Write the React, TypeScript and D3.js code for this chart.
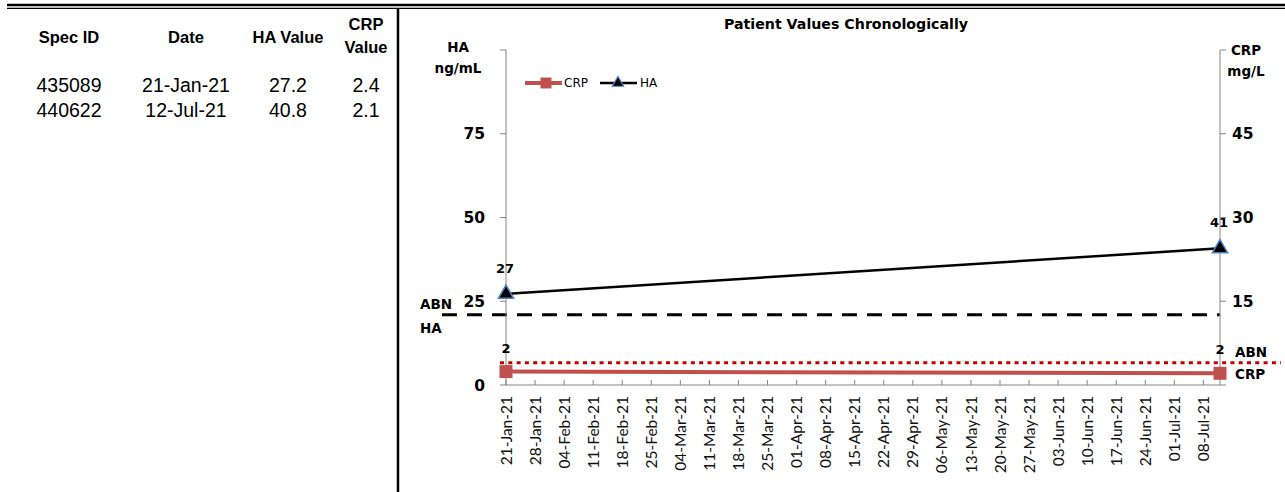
import React from 'react';
import * as d3 from 'd3';

// table / chart data
const specIds = ['435089', '440622'];
const sampleDates = ['21-Jan-21', '12-Jul-21'];
const haValues = [27.2, 40.8];
const crpValues = [2.4, 2.1];

// reference ("abnormal") thresholds
const abnHa = 21;
const abnCrp = 4;

const haTicks = [0, 25, 50, 75, 100];
const haTickLabels = ['0', '25', '50', '75', ''];
const crpTicks = [0, 15, 30, 45, 60];
const crpTickLabels = ['', '15', '30', '45', ''];

const tableHeaders = ['Spec ID', 'Date', 'HA Value', 'CRP Value'];

const W = 1285;
const H = 492;
const axisColor = '#868686';
const crpColor = '#c0504d';
const abnCrpColor = '#c00000';
const triStroke = '#4f81bd';
const chartFont = '"DejaVu Sans", sans-serif';
const tableFont = '"Liberation Sans", Arial, sans-serif';

const parseDate = d3.utcParse('%d-%b-%y');
const fmtDate = d3.utcFormat('%d-%b-%y');

function App() {
  const dates = sampleDates.map(d => parseDate(d) as Date);

  const x = d3.scaleUtc()
    .domain([dates[0], dates[dates.length - 1]])
    .range([506, 1220]);
  const yHa = d3.scaleLinear().domain([0, 100]).range([385, 50]);
  const yCrp = d3.scaleLinear().domain([0, 60]).range([385, 50]);

  const weekTicks = d3.utcDay.range(dates[0], dates[dates.length - 1], 7);

  const [x0, x1] = x.range();
  const yBottom = yHa(0);
  const yTop = yHa(100);

  const haLine = d3.line<number>()
    .x((_, i) => x(dates[i]))
    .y(d => yHa(d));
  const crpLine = d3.line<number>()
    .x((_, i) => x(dates[i]))
    .y(d => yCrp(d));

  const tri = d3.symbol(d3.symbolTriangle, 100)();
  const triSmall = d3.symbol(d3.symbolTriangle, 55)();
  const sq = d3.symbol(d3.symbolSquare, 169)();
  const sqSmall = d3.symbol(d3.symbolSquare, 120)();

  // table columns
  const colX = [69, 186, 288, 366];
  const rowY = [92, 117];
  const rows = specIds.map((id, i) => [id, sampleDates[i], haValues[i].toFixed(1), crpValues[i].toFixed(1)]);

  return (
    <svg width={W} height={H} style={{position: 'absolute', left: 0, top: 0, background: '#fff'}}>
      {/* page rules */}
      <line x1={7} x2={W} y1={5} y2={5} stroke="#000" strokeWidth={2.6}/>
      <line x1={7} x2={W} y1={8.3} y2={8.3} stroke="#000" strokeWidth={1.3}/>
      <line x1={398} x2={398} y1={9} y2={H} stroke="#000" strokeWidth={2.5}/>

      {/* table */}
      <g fontFamily={tableFont} fill="#000">
        {tableHeaders.map((h, i) => {
          const parts = i === 3 ? h.split(' ') : [h];
          return (
            <text key={h} x={colX[i]} y={parts.length > 1 ? 30 : 43} textAnchor="middle" fontWeight="bold" fontSize={16.5}>
              {parts.map((p, j) => <tspan key={j} x={colX[i]} dy={j === 0 ? 0 : 23}>{p}</tspan>)}
            </text>
          );
        })}
        {rows.map((r, i) => r.map((v, j) => (
          <text key={i + '-' + j} x={colX[j]} y={rowY[i]} textAnchor="middle" fontSize={19.5}>{v}</text>
        )))}
      </g>

      {/* chart */}
      <g fontFamily={chartFont} fill="#000">
        <text x={846} y={29} textAnchor="middle" fontWeight="bold" fontSize={14.2}>Patient Values Chronologically</text>

        {/* threshold lines */}
        <line x1={x0 - 64} x2={x1} y1={yHa(abnHa)} y2={yHa(abnHa)} stroke="#000" strokeWidth={3} strokeDasharray="15 10"/>
        <line x1={x0 - 6} x2={W - 4} y1={yCrp(abnCrp)} y2={yCrp(abnCrp)} stroke={abnCrpColor} strokeWidth={3} strokeDasharray="4 4.3"/>

        {/* axes */}
        <line x1={x0} x2={x0} y1={yTop} y2={yBottom} stroke={axisColor}/>
        <line x1={x1} x2={x1} y1={yTop} y2={yBottom} stroke={axisColor}/>
        <line x1={x0} x2={x1} y1={yBottom} y2={yBottom} stroke={axisColor}/>
        {haTicks.map((t, i) => (
          <g key={'ha' + t}>
            <line x1={x0 - 6} x2={x0} y1={yHa(t)} y2={yHa(t)} stroke={axisColor}/>
            <text x={485} y={yHa(t)} dy="0.36em" textAnchor="end" fontWeight="bold" fontSize={15.5}>{haTickLabels[i]}</text>
          </g>
        ))}
        {crpTicks.map((t, i) => (
          <g key={'crp' + t}>
            <line x1={x1} x2={x1 + 6} y1={yCrp(t)} y2={yCrp(t)} stroke={axisColor}/>
            <text x={1232} y={yCrp(t)} dy="0.36em" textAnchor="start" fontWeight="bold" fontSize={15.5}>{crpTickLabels[i]}</text>
          </g>
        ))}
        {weekTicks.map(d => (
          <g key={+d}>
            <line x1={x(d)} x2={x(d)} y1={yBottom - 5} y2={yBottom} stroke={axisColor}/>
            <text transform={`translate(${x(d)},${yBottom + 11}) rotate(-90)`} dy="0.36em" textAnchor="end"
                  fontFamily="Lato, sans-serif" fontSize={15.5} fill="#111">{fmtDate(d)}</text>
          </g>
        ))}

        {/* axis titles */}
        <text x={458} y={52} textAnchor="middle" fontWeight="bold" fontSize={13.5}>
          <tspan x={458}>HA</tspan>
          <tspan x={458} dy={21}>ng/mL</tspan>
        </text>
        <text x={1246} y={55} textAnchor="middle" fontWeight="bold" fontSize={13.5}>
          <tspan x={1246}>CRP</tspan>
          <tspan x={1246} dy={21}>mg/L</tspan>
        </text>
        <text x={420} y={309} fontWeight="bold" fontSize={13.5}>
          <tspan x={420}>ABN</tspan>
          <tspan x={420} dy={24}>HA</tspan>
        </text>
        <text x={1235} y={357} fontWeight="bold" fontSize={13.5}>
          <tspan x={1235}>ABN</tspan>
          <tspan x={1235} dy={22}>CRP</tspan>
        </text>

        {/* series */}
        <path d={crpLine(crpValues) as string} fill="none" stroke={crpColor} strokeWidth={4}/>
        <path d={haLine(haValues) as string} fill="none" stroke="#000" strokeWidth={2.5}/>
        {crpValues.map((v, i) => (
          <g key={'cm' + i}>
            <path d={sq as string} transform={`translate(${x(dates[i])},${yCrp(v)})`} fill={crpColor}/>
            <text x={x(dates[i])} y={yCrp(v) - 19} textAnchor="middle" fontWeight="bold" fontSize={13}>{Math.round(v)}</text>
          </g>
        ))}
        {haValues.map((v, i) => (
          <g key={'hm' + i}>
            <path d={tri as string} transform={`translate(${x(dates[i])},${yHa(v)})`} fill="#000" stroke={triStroke} strokeWidth={1.5}/>
            <text x={x(dates[i]) - 1} y={yHa(v) - 21} textAnchor="middle" fontWeight="bold" fontSize={13}>{Math.round(v)}</text>
          </g>
        ))}

        {/* legend */}
        <g transform="translate(525,83)">
          <line x1={0} x2={37} y1={0} y2={0} stroke={crpColor} strokeWidth={4}/>
          <path d={sqSmall as string} transform="translate(21,0)" fill={crpColor}/>
          <text x={39} y={0} dy="0.36em" fontSize={12}>CRP</text>
          <line x1={75} x2={112} y1={0} y2={0} stroke="#000" strokeWidth={2.5}/>
          <path d={triSmall as string} transform="translate(93,0)" fill="#000" stroke={triStroke} strokeWidth={1.2}/>
          <text x={115} y={0} dy="0.36em" fontSize={12}>HA</text>
        </g>
      </g>
    </svg>
  );
}

export default App;
